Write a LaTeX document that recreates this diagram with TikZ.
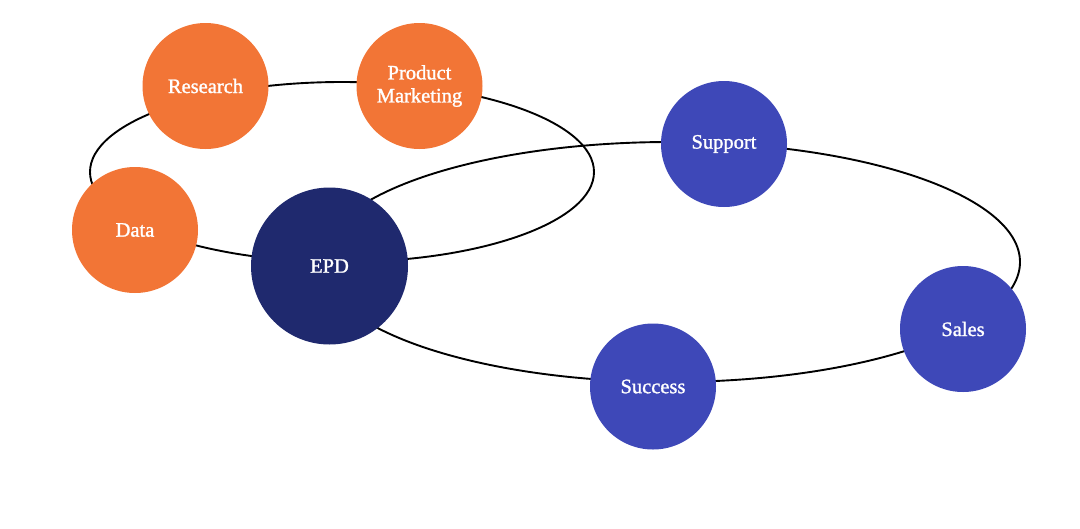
\documentclass[tikz,border=0pt]{standalone}
\usepackage{fontspec}
\newfontfamily\bubfont{Liberation Serif}[FakeBold=1.3]
\definecolor{orangec}{RGB}{242,117,54}
\definecolor{navyc}{RGB}{31,41,110}
\definecolor{bluec}{RGB}{62,72,184}
\tikzset{
  ring/.style={draw=black, line width=1.9pt},
  bub/.style={circle, minimum size=126pt, inner sep=0pt, text=white, align=center,
    font=\bubfont\fontsize{20.5}{23}\selectfont},
  orangebub/.style={bub, fill=orangec},
  bluebub/.style={bub, fill=bluec},
  navybub/.style={bub, fill=navyc, minimum size=157pt},
}
\begin{document}
\begin{tikzpicture}[x=1pt,y=-1pt]
\useasboundingbox (0,0) rectangle (1080,528);
\draw[ring] (342,172) ellipse [x radius=252, y radius=90];
\draw[ring] (670,262) ellipse [x radius=350, y radius=120];
\node[orangebub] (research) at (205.5,86) {Research};
\node[orangebub] (pm) at (419.5,86) {Product\\Marketing};
\node[orangebub] (data) at (135,230) {Data};
\node[navybub] (epd) at (329.5,266) {EPD};
\node[bluebub] (support) at (724,144) {Support};
\node[bluebub] (sales) at (963,329) {Sales};
\node[bluebub] (success) at (653,386.5) {Success};
\end{tikzpicture}
\end{document}
